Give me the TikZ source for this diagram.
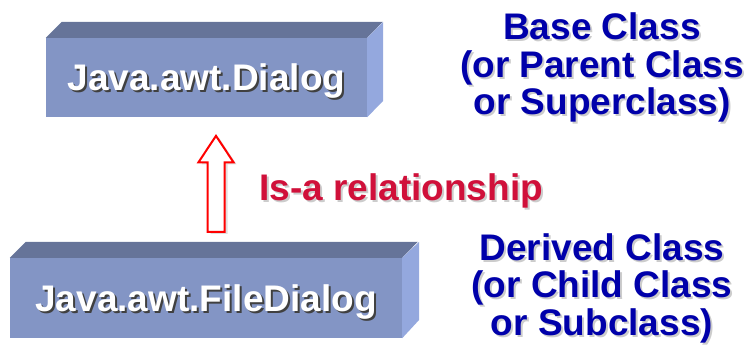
\documentclass[tikz,border=0pt]{standalone}
\usepackage{fontspec}
\setmainfont{Liberation Sans}
\usetikzlibrary{shapes.arrows,shadows}
\definecolor{facefront}{RGB}{131,149,197}
\definecolor{facetop}{RGB}{102,116,153}
\definecolor{faceside}{RGB}{148,168,222}
\definecolor{classblue}{RGB}{0,0,170}
\definecolor{isared}{RGB}{208,16,58}
\newcommand\shadowtext[2]{\makebox[0pt][l]{\hspace{2pt}\raisebox{-2pt}{\color{#1}#2}}#2}
\tikzset{
  box/.style={fill=facefront, inner sep=0pt, text=white, text depth=0pt,
    font=\fontsize{37}{40}\selectfont\bfseries},
  boxtop/.style={fill=facetop},
  boxside/.style={fill=faceside},
  note/.style={inner sep=0pt, align=center, text=classblue,
    font=\fontsize{37}{37.5}\selectfont\bfseries},
}
\begin{document}
\begin{tikzpicture}[x=1pt, y=-1pt]
\useasboundingbox (0,0) rectangle (749,349);
\node (dialog)[box, minimum width=321pt, minimum height=79pt] at (206.5,77.5) {\shadowtext{black!75}{Java.awt.Dialog}};
\node (filedialog)[box, minimum width=392pt, minimum height=80pt] at (206,298) {\shadowtext{black!75}{Java.awt.FileDialog}};
\fill[boxtop] (dialog.north west) -- ++(16,-16) -- ++(321,0) -- (dialog.north east) -- cycle;
\fill[boxside] (dialog.north east) -- ++(16,-16) -- ++(0,79) -- (dialog.south east) -- cycle;
\fill[boxtop] (filedialog.north west) -- ++(16,-16) -- ++(392,0) -- (filedialog.north east) -- cycle;
\fill[boxside] (filedialog.north east) -- ++(17,-16) -- ++(0,78) -- (filedialog.south east) -- cycle;
\node (isa)[single arrow, shape border rotate=90, draw=red, line width=2pt, fill=white,
  drop shadow={shadow xshift=3pt, shadow yshift=-2pt, fill=black!25},
  minimum height=96pt, minimum width=0pt, inner sep=7.5pt,
  single arrow head extend=9pt, single arrow tip angle=67, anchor=tip] at (216,134) {};
\node (rel)[inner sep=0pt, anchor=base west, text=isared,
  font=\fontsize{37}{40}\selectfont\bfseries] at (259,200) {\shadowtext{black!20}{Is-a relationship}};
\node (base)[note] at (602,68.5) {\shadowtext{black!20}{Base Class}\\\shadowtext{black!20}{(or Parent Class}\\\shadowtext{black!20}{or Superclass)}};
\node (derived)[note] at (602,289) {\shadowtext{black!20}{Derived Class}\\\shadowtext{black!20}{(or Child Class}\\\shadowtext{black!20}{or Subclass)}};
\end{tikzpicture}
\end{document}
